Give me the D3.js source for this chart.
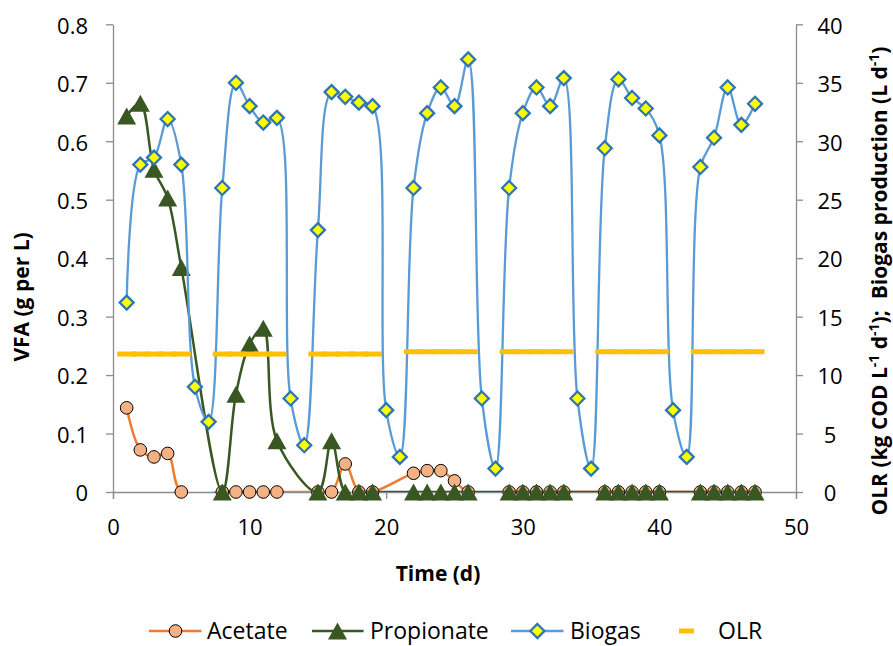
<!DOCTYPE html>
<html><head><meta charset="utf-8">
<script src="https://cdn.jsdelivr.net/npm/d3@7/dist/d3.min.js"></script>
<style>
body{margin:0;background:#fff}
svg text{font-family:"Open Sans","DejaVu Sans",sans-serif}
</style>
</head><body>
<svg id="c" width="893" height="646"></svg>
<script>
// ---------- data ----------
const biogasDays = [1,2,3,4,5,6,7,8,9,10,11,12,13,14,15,16,17,18,19,20,21,22,23,24,25,26,27,28,29,30,31,32,33,34,35,36,37,38,39,40,41,42,43,44,45,46,47];
const biogas = [16.2,28.0,28.6,31.9,28.0,9.0,6.0,26.0,35.0,33.0,31.6,32.0,8.0,4.0,22.4,34.2,33.8,33.3,33.0,7.0,3.0,26.0,32.4,34.6,33.0,37.0,8.0,2.0,26.0,32.4,34.6,33.0,35.4,8.0,2.0,29.4,35.3,33.7,32.8,30.5,7.0,3.0,27.8,30.3,34.6,31.4,33.2];

const vfaDays = [1,2,3,4,5,8,9,10,11,12,15,16,17,18,19,22,23,24,25,26,29,30,31,32,33,36,37,38,39,40,43,44,45,46,47];
const acetate = [0.144,0.072,0.060,0.066,0,0,0,0,0,0,0,0,0.048,0,0,0.032,0.0365,0.0365,0.019,0,0,0,0,0,0,0,0,0,0,0,0,0,0,0,0];
const propionate = [0.643,0.665,0.552,0.503,0.384,0,0.167,0.253,0.280,0.0875,0,0.0875,0,0,0,0,0,0,0,0,0,0,0,0,0,0,0,0,0,0,0,0,0,0,0];
const olr = [11.8,11.8,11.8,11.8,11.8,11.8,11.8,11.8,11.8,11.8,11.8,11.8,11.8,11.8,11.8,12.0,12.0,12.0,12.0,12.0,12.0,12.0,12.0,12.0,12.0,12.0,12.0,12.0,12.0,12.0,12.0,12.0,12.0,12.0,12.0];

const xTicks = [0,10,20,30,40,50];
const xTickLabels = ["0","10","20","30","40","50"];
const leftTicks = [0,0.1,0.2,0.3,0.4,0.5,0.6,0.7,0.8];
const leftTickLabels = ["0","0.1","0.2","0.3","0.4","0.5","0.6","0.7","0.8"];
const rightTicks = [0,5,10,15,20,25,30,35,40];
const rightTickLabels = ["0","5","10","15","20","25","30","35","40"];
const seriesNames = ["Acetate","Propionate","Biogas","OLR"];

// ---------- styles ----------
const C = {
  acLine:"#ED7D31", acFill:"#F4B183",
  pr:"#385723",
  bgLine:"#5B9BD5", bgFill:"#FFFF00", bgStroke:"#2E75B6",
  olr:"#FFC000", axis:"#8C8C8C"
};

const svg = d3.select("#c");
const x = d3.scaleLinear().domain([0,50]).range([113,796]);
const yL = d3.scaleLinear().domain([0,0.8]).range([492,24.3]);
const yR = d3.scaleLinear().domain([0,40]).range([492,24.3]);

// ---------- axes ----------
function styleAxis(g){
  g.selectAll("path.domain").attr("stroke",C.axis).attr("stroke-width",1.3);
  g.selectAll(".tick line").attr("stroke",C.axis).attr("stroke-width",1.3);
  g.selectAll(".tick text").attr("fill","#000").style("font-size","22px").style("font-family",'"Open Sans",sans-serif');
}
const gx = svg.append("g").attr("transform","translate(0,492)")
  .call(d3.axisBottom(x).tickValues(xTicks).tickFormat((d,i)=>xTickLabels[i]).tickSize(7).tickPadding(20));
styleAxis(gx);
const gl = svg.append("g").attr("transform","translate(113,0)")
  .call(d3.axisLeft(yL).tickValues(leftTicks).tickFormat((d,i)=>leftTickLabels[i]).tickSize(7).tickSizeOuter(0).tickPadding(18));
styleAxis(gl);
gl.selectAll(".tick text").attr("dy","0.4em");
const gr = svg.append("g").attr("transform","translate(796,0)")
  .call(d3.axisRight(yR).tickValues(rightTicks).tickFormat((d,i)=>rightTickLabels[i]).tickSize(7).tickSizeOuter(0));
styleAxis(gr);
gr.selectAll(".tick text").attr("x",34).attr("text-anchor","middle").attr("dy","0.4em");

// ---------- clip ----------
svg.append("clipPath").attr("id","pa").append("rect").attr("x",113).attr("y",20).attr("width",683).attr("height",472);

const curve = d3.curveCatmullRom.alpha(0.5);
const acData = vfaDays.map((d,i)=>[d,acetate[i]]);
const prData = vfaDays.map((d,i)=>[d,propionate[i]]);
const bgData = biogasDays.map((d,i)=>[d,biogas[i]]);
const olData = vfaDays.map((d,i)=>[d,olr[i]]);

const triPath = "M0,-8.5L9.5,8.5L-9.5,8.5Z";
const diaPath = "M0,-7L7,0L0,7L-7,0Z";

// Acetate
svg.append("path").datum(acData).attr("clip-path","url(#pa)")
  .attr("d",d3.line().x(d=>x(d[0])).y(d=>yL(d[1])).curve(curve))
  .attr("fill","none").attr("stroke",C.acLine).attr("stroke-width",2.5);
svg.append("g").selectAll("circle").data(acData).join("circle")
  .attr("cx",d=>x(d[0])).attr("cy",d=>yL(d[1])).attr("r",6.3)
  .attr("fill",C.acFill).attr("stroke","#000").attr("stroke-width",1);

// Propionate
svg.append("path").datum(prData).attr("clip-path","url(#pa)")
  .attr("d",d3.line().x(d=>x(d[0])).y(d=>yL(d[1])).curve(curve))
  .attr("fill","none").attr("stroke",C.pr).attr("stroke-width",2.5);
svg.append("g").selectAll("path").data(prData).join("path")
  .attr("transform",d=>`translate(${x(d[0])},${yL(d[1])})`).attr("d",triPath)
  .attr("fill",C.pr);

// Biogas
svg.append("path").datum(bgData).attr("clip-path","url(#pa)")
  .attr("d",d3.line().x(d=>x(d[0])).y(d=>yR(d[1])).curve(curve))
  .attr("fill","none").attr("stroke",C.bgLine).attr("stroke-width",2.3);
svg.append("g").selectAll("path").data(bgData).join("path")
  .attr("transform",d=>`translate(${x(d[0])},${yR(d[1])})`).attr("d",diaPath)
  .attr("fill",C.bgFill).attr("stroke",C.bgStroke).attr("stroke-width",2.3);

// OLR (dash markers only)
svg.append("g").selectAll("rect").data(olData).join("rect")
  .attr("x",d=>x(d[0])-9.5).attr("y",d=>yR(d[1])-2.5).attr("width",19).attr("height",5)
  .attr("fill",C.olr);

// ---------- titles ----------
svg.append("text").attr("x",438).attr("y",581).attr("text-anchor","middle")
  .style("font-size","21px").style("font-weight","bold").text("Time (d)");
svg.append("text").attr("transform","translate(29,297) rotate(-90)").attr("text-anchor","middle")
  .style("font-size","21px").style("font-weight","bold").text("VFA (g per L)");

const rt = svg.append("text").attr("transform","translate(887,281) rotate(-90)").attr("text-anchor","middle")
  .style("font-size","21px").style("font-weight","bold").style("white-space","pre");
const parts = [["OLR (kg COD L",0],["-1",1],[" d",0],["-1",1],[");  Biogas production (L d",0],["-1",1],[")",0]];
let sup = false;
parts.forEach(([t,s])=>{
  const ts = rt.append("tspan").text(t);
  if (s && !sup){ ts.attr("dy",-8).style("font-size","14px"); sup = true; }
  else if (s){ ts.style("font-size","14px"); }
  else if (!s && sup){ ts.attr("dy",8); sup = false; }
});

// ---------- legend ----------
const ly = 631;
const lg = svg.append("g");
// Acetate
lg.append("line").attr("x1",149).attr("x2",201.5).attr("y1",ly).attr("y2",ly).attr("stroke",C.acLine).attr("stroke-width",2.5);
lg.append("circle").attr("cx",175.5).attr("cy",ly).attr("r",6.3).attr("fill",C.acFill).attr("stroke","#000");
lg.append("text").attr("x",207).attr("y",ly+8).style("font-size","23px").text(seriesNames[0]);
// Propionate
lg.append("line").attr("x1",312).attr("x2",363.6).attr("y1",ly).attr("y2",ly).attr("stroke",C.pr).attr("stroke-width",2.5);
lg.append("path").attr("transform",`translate(337.5,${ly})`).attr("d",triPath).attr("fill",C.pr);
lg.append("text").attr("x",370).attr("y",ly+8).style("font-size","23px").text(seriesNames[1]);
// Biogas
lg.append("line").attr("x1",511).attr("x2",563.5).attr("y1",ly).attr("y2",ly).attr("stroke",C.bgLine).attr("stroke-width",2.3);
lg.append("path").attr("transform",`translate(537.4,${ly})`).attr("d",diaPath).attr("fill",C.bgFill).attr("stroke",C.bgStroke).attr("stroke-width",2.3);
lg.append("text").attr("x",570).attr("y",ly+8).style("font-size","23px").text(seriesNames[2]);
// OLR
lg.append("rect").attr("x",679).attr("y",ly-2.5).attr("width",15).attr("height",5).attr("fill",C.olr);
lg.append("text").attr("x",718).attr("y",ly+8).style("font-size","23px").text(seriesNames[3]);
</script>
</body></html>
